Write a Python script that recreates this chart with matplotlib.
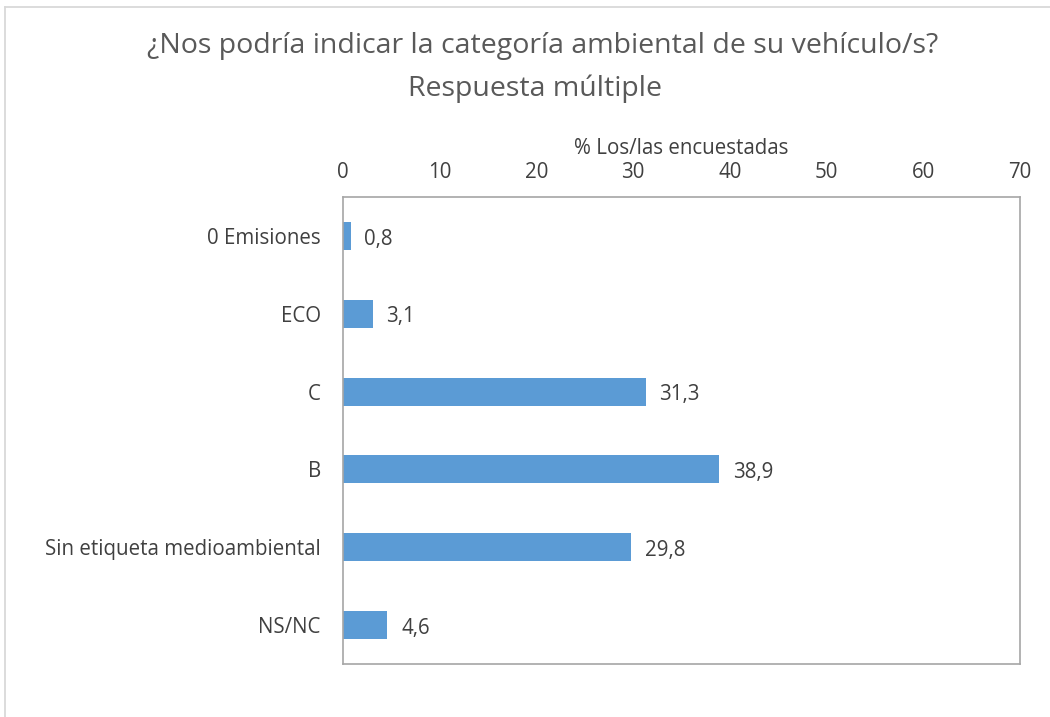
import matplotlib
matplotlib.use("Agg")
import matplotlib.pyplot as plt
from matplotlib.lines import Line2D

categories = ["0 Emisiones", "ECO", "C", "B", "Sin etiqueta medioambiental", "NS/NC"]
values = [0.8, 3.1, 31.3, 38.9, 29.8, 4.6]
xticks = [0, 10, 20, 30, 40, 50, 60, 70]
title1 = "¿Nos podría indicar la categoría ambiental de su vehículo/s?"
title2 = "Respuesta múltiple"
xlabel = "% Los/las encuestadas"

plt.rcParams['font.family'] = ['Open Sans', 'DejaVu Sans']
txt = '#404040'
fs = 14.8

W, H = 1050, 717
fig = plt.figure(figsize=(W / 100, H / 100), dpi=100)
ax = fig.add_axes([343 / W, 1 - 664 / H, (1020 - 343) / W, (664 - 197) / H])

ypos = list(range(len(categories)))
ax.barh(ypos, values, height=0.36, color='#5B9BD5')
ax.set_ylim(len(categories) - 0.5, -0.5)
ax.set_xlim(0, 70)
ax.set_yticks(ypos)
ax.set_yticklabels(categories, fontsize=fs, color=txt)
ax.set_xticks(xticks)
ax.set_xticklabels([str(t) for t in xticks], fontsize=fs, color=txt)
ax.xaxis.tick_top()
ax.xaxis.set_label_position('top')
ax.set_xlabel(xlabel, fontsize=fs, color=txt, labelpad=6)
ax.tick_params(axis='x', length=0, pad=10)
ax.tick_params(axis='y', length=0, pad=16)
for s in ax.spines.values():
    s.set_color('#A6A6A6')
    s.set_linewidth(1.2)

for y, v in zip(ypos, values):
    ax.text(v + 1.4, y + 0.04, f"{v:.1f}".replace('.', ','), va='center', ha='left',
            fontsize=fs, color=txt)

fig.text(543 / W, 1 - 46 / H, title1, ha='center', va='center', fontsize=20.5, color='#595959')
fig.text(535 / W, 1 - 89 / H, title2, ha='center', va='center', fontsize=20.5, color='#595959')

fig.add_artist(Line2D([5 / W, 1], [1 - 6.5 / H, 1 - 6.5 / H], color='#D9D9D9', lw=1.3,
                      transform=fig.transFigure))
fig.add_artist(Line2D([5 / W, 5 / W], [0, 1 - 6.5 / H], color='#D9D9D9', lw=1.3,
                      transform=fig.transFigure))

fig.savefig('out.png', dpi=100)
